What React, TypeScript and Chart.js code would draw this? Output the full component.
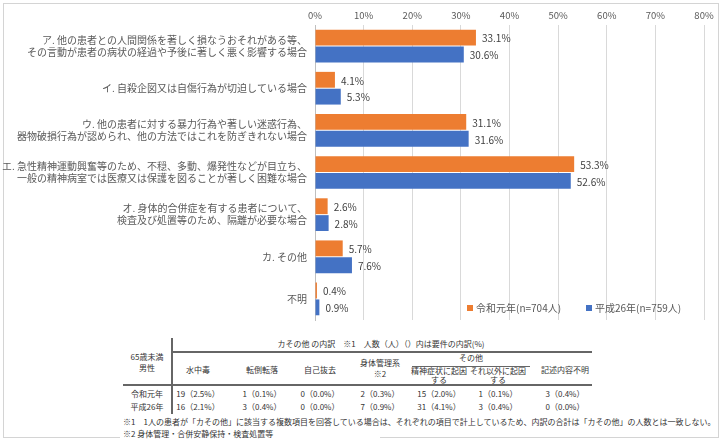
import React, { useEffect, useRef } from 'react';
import { Chart, registerables } from 'chart.js';

Chart.register(...registerables);

const categories: (string | string[])[] = [
  ['ア. 他の患者との人間関係を著しく損なうおそれがある等、', 'その言動が患者の病状の経過や予後に著しく悪く影響する場合'],
  'イ. 自殺企図又は自傷行為が切迫している場合',
  ['ウ. 他の患者に対する暴力行為や著しい迷惑行為、', '器物破損行為が認められ、他の方法ではこれを防ぎきれない場合'],
  ['エ. 急性精神運動興奮等のため、不穏、多動、爆発性などが目立ち、', '一般の精神病室では医療又は保護を図ることが著しく困難な場合'],
  ['オ. 身体的合併症を有する患者について、', '検査及び処置等のため、隔離が必要な場合'],
  'カ. その他',
  '不明',
];
const seriesNames = ['令和元年(n=704人)', '平成26年(n=759人)'];
const reiwaValues = [33.1, 4.1, 31.1, 53.3, 2.6, 5.7, 0.4];
const heiseiValues = [30.6, 5.3, 31.6, 52.6, 2.8, 7.6, 0.9];
const xTickValues = [0, 10, 20, 30, 40, 50, 60, 70, 80];

const tableTitle = 'カその他 の内訳　※1　人数（人）（）内は要件の内訳(%)';
const tableCorner = ['65歳未満', '男性'];
const tableGroup = 'その他';
const tableColumns: string[][] = [
  ['水中毒'],
  ['転倒転落'],
  ['自己抜去'],
  ['身体管理系', '※2'],
  ['精神症状に起因', 'する'],
  ['それ以外に起因', 'する'],
  ['記述内容不明'],
];
const tableRowLabels = ['令和元年', '平成26年'];
const tableReiwa = ['19（2.5%）', '1（0.1%）', '0（0.0%）', '2（0.3%）', '15（2.0%）', '1（0.1%）', '3（0.4%）'];
const tableHeisei = ['16（2.1%）', '3（0.4%）', '0（0.0%）', '7（0.9%）', '31（4.1%）', '3（0.4%）', '0（0.0%）'];
const tableNotes = [
  '※1　1人の患者が「カその他」に該当する複数項目を回答している場合は、それぞれの項目で計上しているため、内訳の合計は「カその他」の人数とは一致しない。',
  '※2 身体管理・合併安静保持・検査処置等',
];

const COLORS = ['#ED7D31', '#4472C4'];
const FONT = '"Noto Sans CJK JP", "Noto Sans", sans-serif';

const colCenters = [198, 262, 320, 380, 439, 498, 565];

function Txt({ x, y, children, size = 8, anchor = 'center' }: any) {
  return (
    <div
      style={{
        position: 'absolute',
        left: x,
        top: y - 6,
        lineHeight: '12px',
        fontSize: size,
        whiteSpace: 'nowrap',
        transform: anchor === 'center' ? 'translateX(-50%)' : undefined,
        color: '#333',
      }}
    >
      {children}
    </div>
  );
}

export default function App() {
  const ref = useRef<HTMLCanvasElement | null>(null);

  useEffect(() => {
    if (!ref.current) return;
    const valueLabels = {
      id: 'valueLabels',
      afterDatasetsDraw(chart: any) {
        const ctx = chart.ctx;
        ctx.save();
        ctx.font = `10px ${FONT}`;
        ctx.fillStyle = '#404040';
        ctx.textAlign = 'left';
        ctx.textBaseline = 'middle';
        chart.data.datasets.forEach((ds: any, di: number) => {
          const meta = chart.getDatasetMeta(di);
          meta.data.forEach((el: any, i: number) => {
            ctx.fillText(ds.data[i].toFixed(1) + '%', el.x + 6, el.y + 1);
          });
        });
        ctx.restore();
      },
    };
    const customLegend = {
      id: 'customLegend',
      afterDraw(chart: any) {
        const ctx = chart.ctx;
        const a = chart.chartArea;
        ctx.save();
        ctx.font = `10px ${FONT}`;
        ctx.textBaseline = 'middle';
        ctx.textAlign = 'left';
        const y = a.bottom - 12;
        const xs = [a.left + 152, a.left + 271];
        chart.data.datasets.forEach((ds: any, i: number) => {
          ctx.fillStyle = ds.backgroundColor;
          ctx.fillRect(xs[i], y - 3, 6, 6);
          ctx.fillStyle = '#595959';
          ctx.fillText(ds.label, xs[i] + 9, y);
        });
        ctx.restore();
      },
    };
    const chart = new Chart(ref.current, {
      type: 'bar',
      data: {
        labels: categories,
        datasets: [
          { label: seriesNames[0], data: reiwaValues, backgroundColor: COLORS[0], categoryPercentage: 0.8, barPercentage: 0.94 },
          { label: seriesNames[1], data: heiseiValues, backgroundColor: COLORS[1], categoryPercentage: 0.8, barPercentage: 0.94 },
        ],
      },
      options: {
        indexAxis: 'y',
        animation: false,
        responsive: false,
        maintainAspectRatio: false,
        layout: { padding: { left: 0, right: 21, top: 0, bottom: 10 } },
        plugins: {
          legend: { display: false },
          tooltip: { enabled: false },
        },
        scales: {
          x: {
            position: 'top',
            min: 0,
            max: 80,
            afterBuildTicks: (scale: any) => {
              scale.ticks = xTickValues.map((v) => ({ value: v }));
            },
            afterFit: (scale: any) => {
              scale.height = 25;
            },
            ticks: {
              callback: (v: any) => v + '%',
              font: { family: FONT, size: 9.5 },
              color: '#595959',
              padding: 4,
            },
            grid: { color: '#d9d9d9', drawTicks: false },
            border: { display: false },
          },
          y: {
            afterFit: (scale: any) => {
              scale.width = 315;
              scale.paddingTop = 0;
              scale.paddingBottom = 0;
            },
            ticks: {
              font: { family: FONT, size: 10 },
              color: '#595959',
              padding: 8,
            },
            grid: { display: false, drawTicks: false },
            border: { display: true, color: '#bfbfbf' },
          },
        },
      },
      plugins: [valueLabels, customLegend],
    });
    return () => chart.destroy();
  }, []);

  const lineColor = '#666';
  return (
    <div
      style={{
        position: 'fixed',
        left: 0,
        top: 0,
        width: 725,
        height: 444,
        background: '#fff',
        fontFamily: FONT,
        overflow: 'hidden',
      }}
    >
      <div
        style={{
          position: 'absolute',
          left: 3,
          top: 3,
          width: 716,
          height: 435,
          border: '1px solid #d4d4d4',
          boxSizing: 'border-box',
        }}
      />
      <canvas ref={ref} width={725} height={330} style={{ position: 'absolute', left: 0, top: 0, width: 725, height: 330 }} />

      {/* table lines */}
      <div style={{ position: 'absolute', left: 171, top: 338, width: 1.5, height: 76, background: lineColor }} />
      <div style={{ position: 'absolute', left: 171, top: 351, width: 421, height: 1.5, background: lineColor }} />
      <div style={{ position: 'absolute', left: 123, top: 384, width: 469, height: 1.5, background: lineColor }} />
      <div style={{ position: 'absolute', left: 412, top: 366, width: 118, height: 1, background: lineColor }} />

      <Txt x={381} y={344}>{tableTitle}</Txt>
      <Txt x={147} y={357}>{tableCorner[0]}</Txt>
      <Txt x={147} y={368}>{tableCorner[1]}</Txt>
      <Txt x={471} y={358}>{tableGroup}</Txt>
      {tableColumns.map((lines, i) =>
        lines.length === 1 ? (
          <Txt key={'c' + i} x={colCenters[i]} y={370}>{lines[0]}</Txt>
        ) : (
          <React.Fragment key={'c' + i}>
            <Txt x={colCenters[i]} y={i === 3 ? 363 : 371}>{lines[0]}</Txt>
            <Txt x={colCenters[i]} y={i === 3 ? 374 : 380}>{lines[1]}</Txt>
          </React.Fragment>
        )
      )}
      <Txt x={147} y={394}>{tableRowLabels[0]}</Txt>
      <Txt x={147} y={407}>{tableRowLabels[1]}</Txt>
      {tableReiwa.map((t, i) => (
        <Txt key={'r' + i} x={colCenters[i]} y={394}>{t}</Txt>
      ))}
      {tableHeisei.map((t, i) => (
        <Txt key={'h' + i} x={colCenters[i]} y={407}>{t}</Txt>
      ))}
      <div style={{ position: 'absolute', left: 120, top: 428, width: 260, height: 14, background: '#fff' }} />
      <Txt x={123} y={422} anchor="left">{tableNotes[0]}</Txt>
      <Txt x={123} y={434} anchor="left">{tableNotes[1]}</Txt>
    </div>
  );
}
